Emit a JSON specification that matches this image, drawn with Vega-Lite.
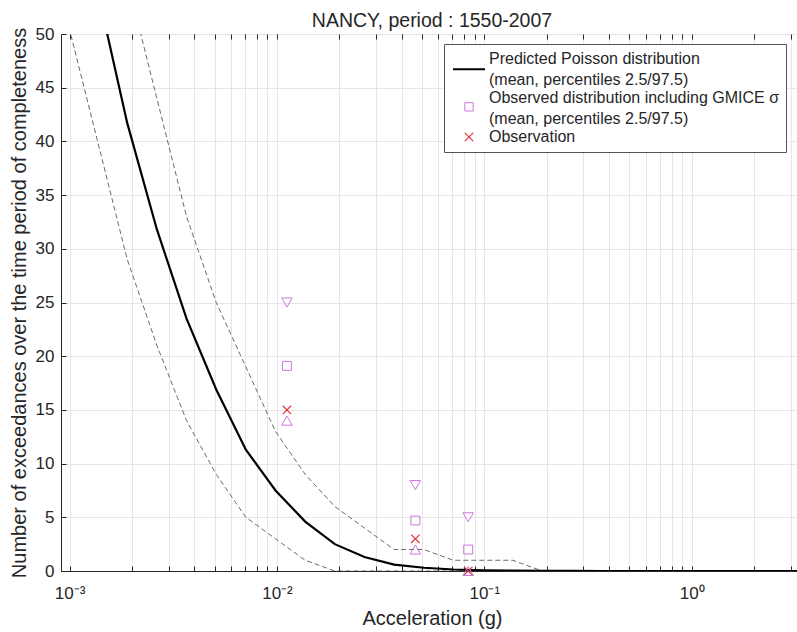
{
  "$schema": "https://vega.github.io/schema/vega-lite/v6.json",
  "width": 742,
  "height": 537,
  "autosize": {"type": "none"},
  "padding": {"left": 61, "top": 34, "right": 0, "bottom": 61},
  "background": "white",
  "title": {"text": "NANCY, period : 1550-2007", "fontSize": 19.5, "fontWeight": "normal", "font": "Liberation Sans", "color": "#262626", "anchor": "middle", "offset": -6},
  "config": {
    "font": "Liberation Sans",
    "view": {"stroke": "#4d4d4d", "strokeWidth": 1},
    "axis": {"domainColor": "#262626", "tickColor": "#262626", "labelColor": "#262626", "titleColor": "#262626", "labelFont": "Liberation Sans", "titleFont": "Liberation Sans", "labelFontSize": 17, "titleFontSize": 20, "titleFontWeight": "normal", "gridColor": "#e6e6e6", "gridWidth": 1, "tickSize": -5, "domainWidth": 1},
    "style": {"guide-label": {"lineHeight": 21}}
  },
  "datasets": {
    "curves": [
      {"g": 0.000706, "mean": 84, "lo": 66, "hi": 103},
      {"g": 0.000982, "mean": 66.5, "lo": 51, "hi": 83},
      {"g": 0.001365, "mean": 54, "lo": 40, "hi": 69},
      {"g": 0.001897, "mean": 41.7, "lo": 29, "hi": 55},
      {"g": 0.002636, "mean": 31.8, "lo": 21, "hi": 44},
      {"g": 0.003664, "mean": 23.5, "lo": 14, "hi": 33},
      {"g": 0.005093, "mean": 16.9, "lo": 9, "hi": 25},
      {"g": 0.007079, "mean": 11.3, "lo": 5, "hi": 19},
      {"g": 0.00984, "mean": 7.5, "lo": 3, "hi": 13},
      {"g": 0.01368, "mean": 4.6, "lo": 1, "hi": 9},
      {"g": 0.01901, "mean": 2.5, "lo": 0, "hi": 6},
      {"g": 0.02642, "mean": 1.3, "lo": 0, "hi": 4},
      {"g": 0.03673, "mean": 0.6, "lo": 0, "hi": 2},
      {"g": 0.05105, "mean": 0.3, "lo": 0, "hi": 2},
      {"g": 0.07096, "mean": 0.14, "lo": 0, "hi": 1},
      {"g": 0.09863, "mean": 0.07, "lo": 0, "hi": 1},
      {"g": 0.1371, "mean": 0.03, "lo": 0, "hi": 1},
      {"g": 0.1905, "mean": 0.012, "lo": 0, "hi": 0},
      {"g": 0.2649, "mean": 0.005, "lo": 0, "hi": 0},
      {"g": 0.3681, "mean": 0.002, "lo": 0, "hi": 0},
      {"g": 0.5117, "mean": 0.001, "lo": 0, "hi": 0},
      {"g": 0.7112, "mean": 0, "lo": 0, "hi": 0},
      {"g": 0.9886, "mean": 0, "lo": 0, "hi": 0},
      {"g": 1.374, "mean": 0, "lo": 0, "hi": 0},
      {"g": 1.91, "mean": 0, "lo": 0, "hi": 0},
      {"g": 2.655, "mean": 0, "lo": 0, "hi": 0},
      {"g": 3.69, "mean": 0, "lo": 0, "hi": 0}
    ],
    "obs": [
      {"g": 0.01117, "n": 25, "series": "p97.5"},
      {"g": 0.01117, "n": 19.1, "series": "Observed"},
      {"g": 0.01117, "n": 15, "series": "Observation"},
      {"g": 0.01117, "n": 14, "series": "p2.5"},
      {"g": 0.0465, "n": 8, "series": "p97.5"},
      {"g": 0.0465, "n": 4.7, "series": "Observed"},
      {"g": 0.0465, "n": 3, "series": "Observation"},
      {"g": 0.0465, "n": 2, "series": "p2.5"},
      {"g": 0.0836, "n": 5, "series": "p97.5"},
      {"g": 0.0836, "n": 2, "series": "Observed"},
      {"g": 0.0836, "n": 0, "series": "Observation"},
      {"g": 0.0836, "n": 0, "series": "p2.5"}
    ]
  },
  "resolve": {"axis": {"x": "independent"}},
  "layer": [
    {
      "data": {"name": "curves"},
      "mark": {"type": "line", "color": "#6a6a6a", "strokeWidth": 1, "strokeDash": [5, 3], "clip": true},
      "encoding": {
        "x": {"field": "g", "type": "quantitative",
          "scale": {"type": "log", "domain": [0.000909, 3.44], "nice": false},
          "axis": {"orient": "bottom", "title": "Acceleration (g)", "values": [0.001,0.002,0.003,0.004,0.005,0.006,0.007,0.008,0.009,0.01,0.02,0.03,0.04,0.05,0.06,0.07,0.08,0.09,0.1,0.2,0.3,0.4,0.5,0.6,0.7,0.8,0.9,1,2,3],
            "labelExpr": "datum.value == 0.001 ? '10⁻³' : datum.value == 0.01 ? '10⁻²' : datum.value == 0.1 ? '10⁻¹' : datum.value == 1 ? '10⁰' : ''",
            "labelOverlap": false, "labelPadding": 19, "titlePadding": 7, "grid": true}},
        "y": {"field": "lo", "type": "quantitative", "title": "Number of exceedances over the time period of completeness",
          "scale": {"domain": [0, 50], "nice": false, "zero": false},
          "axis": {"values": [0,5,10,15,20,25,30,35,40,45,50], "labelPadding": 12, "titlePadding": 6, "grid": true}}
      }
    },
    {
      "data": {"name": "curves"},
      "mark": {"type": "line", "color": "#6a6a6a", "strokeWidth": 1, "strokeDash": [5, 3], "clip": true},
      "encoding": {
        "x": {"field": "g", "type": "quantitative", "axis": null},
        "y": {"field": "hi", "type": "quantitative", "title": "Number of exceedances over the time period of completeness"}
      }
    },
    {
      "data": {"name": "curves"},
      "mark": {"type": "line", "color": "#000000", "strokeWidth": 2.2, "clip": true},
      "encoding": {
        "x": {"field": "g", "type": "quantitative", "axis": null},
        "y": {"field": "mean", "type": "quantitative", "title": "Number of exceedances over the time period of completeness"}
      }
    },
    {
      "data": {"name": "obs"},
      "mark": {"type": "point", "filled": false, "opacity": 1},
      "encoding": {
        "x": {"field": "g", "type": "quantitative", "axis": null},
        "y": {"field": "n", "type": "quantitative", "title": "Number of exceedances over the time period of completeness"},
        "color": {"field": "series", "type": "nominal",
          "scale": {"domain": ["PredictedL", "ObservedL", "Observation", "Observed", "p97.5", "p2.5"], "range": ["#000000", "#cc77dd", "#e4343c", "#cc77dd", "#cc77dd", "#cc77dd"]},
          "legend": {"orient": "none", "legendX": 383, "legendY": 10, "title": null,
            "values": ["PredictedL", "ObservedL", "Observation"],
            "labelExpr": "datum.label == 'PredictedL' ? ['Predicted Poisson distribution', '(mean, percentiles 2.5/97.5)'] : datum.label == 'ObservedL' ? ['Observed distribution including GMICE σ', '(mean, percentiles 2.5/97.5)'] : datum.label",
            "labelFontSize": 16, "labelColor": "#262626", "labelFont": "Liberation Sans", "labelLimit": 500,
            "padding": 7, "symbolOffset": 10, "labelOffset": 12, "rowPadding": 2,
            "fillColor": "white", "strokeColor": "#555555"}},
        "shape": {"field": "series", "type": "nominal",
          "scale": {"domain": ["PredictedL", "ObservedL", "Observation", "Observed", "p97.5", "p2.5"], "range": ["M-3.58,2.3L3.58,2.3", "M-0.93,1.05L0.93,1.05L0.93,2.91L-0.93,2.91Z", "M-1,-1L1,1M-1,1L1,-1", "square", "triangle-down", "triangle-up"]}},
        "size": {"field": "series", "type": "nominal",
          "scale": {"type": "ordinal", "domain": ["PredictedL", "ObservedL", "Observation", "Observed", "p97.5", "p2.5"], "range": [80, 80, 70, 80, 110, 110]}},
        "strokeWidth": {"field": "series", "type": "nominal",
          "scale": {"type": "ordinal", "domain": ["PredictedL", "ObservedL", "Observation", "Observed", "p97.5", "p2.5"], "range": [2, 1, 1.2, 1, 1, 1]}}
      }
    },
    {
      "data": {"name": "curves"},
      "mark": {"type": "point", "opacity": 0, "clip": true},
      "encoding": {
        "x": {"field": "g", "type": "quantitative",
          "axis": {"orient": "top", "title": null, "labels": false, "grid": false, "domain": false, "values": [0.001,0.002,0.003,0.004,0.005,0.006,0.007,0.008,0.009,0.01,0.02,0.03,0.04,0.05,0.06,0.07,0.08,0.09,0.1,0.2,0.3,0.4,0.5,0.6,0.7,0.8,0.9,1,2,3]}},
        "y": {"field": "mean", "type": "quantitative", "title": "Number of exceedances over the time period of completeness"}
      }
    }
  ]
}
